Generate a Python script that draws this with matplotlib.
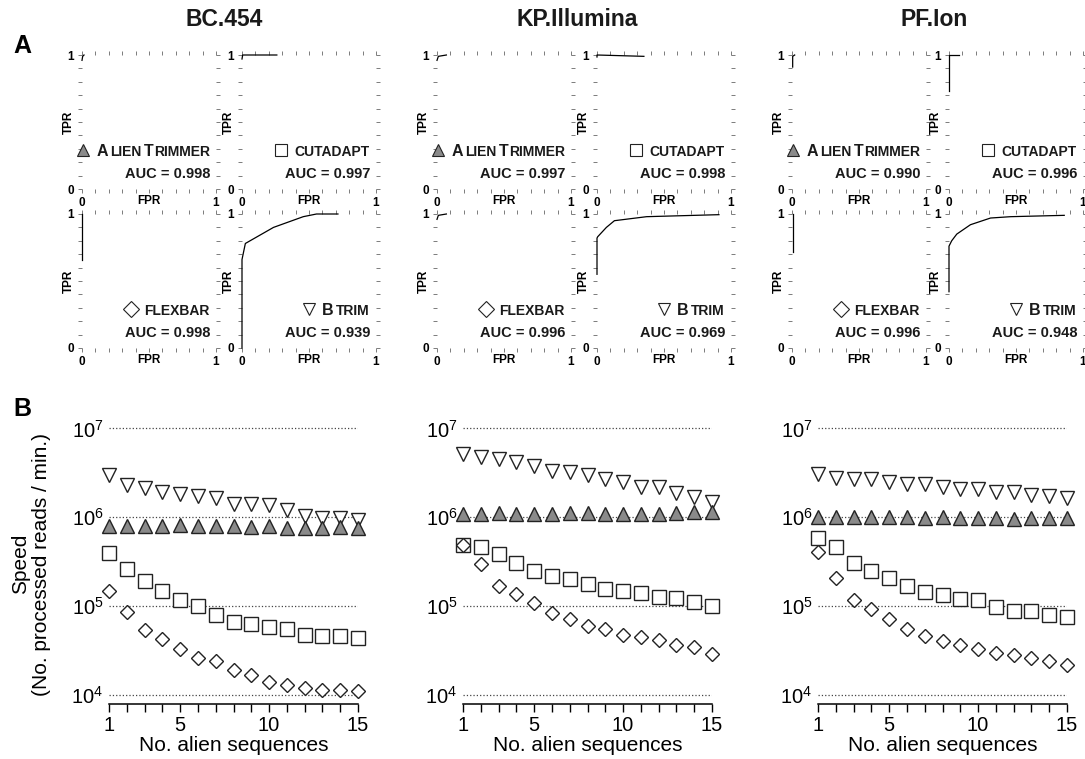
import matplotlib
matplotlib.use('Agg')
import matplotlib.pyplot as plt
from matplotlib.lines import Line2D
from matplotlib.offsetbox import AnchoredOffsetbox, HPacker, TextArea, DrawingArea
from matplotlib.ticker import FixedLocator, FuncFormatter, NullLocator

W, H = 1085, 759

plt.rcParams['font.family'] = ['Liberation Sans', 'DejaVu Sans']
NARROW = ['Liberation Sans Narrow', 'Liberation Sans', 'DejaVu Sans']

DATASETS = ['BC.454', 'KP.Illumina', 'PF.Ion']
N_ALIEN = list(range(1, 16))

# tool order in panel A: AlienTrimmer, Cutadapt, Flexbar, BTrim
AUC_BC = [0.998, 0.997, 0.998, 0.939]
AUC_KP = [0.997, 0.998, 0.996, 0.969]
AUC_PF = [0.990, 0.996, 0.996, 0.948]

# ROC curves (fpr, tpr)
BC_ALIEN_FPR = [0.0, 0.005, 0.015]
BC_ALIEN_TPR = [0.96, 0.99, 1.0]
BC_CUT_FPR = [0.0, 0.005, 0.26]
BC_CUT_TPR = [0.97, 1.0, 1.0]
BC_FLEX_FPR = [0.0, 0.0]
BC_FLEX_TPR = [0.66, 1.0]
BC_BTRIM_FPR = [0.0, 0.0, 0.025, 0.235, 0.457, 0.556, 0.716]
BC_BTRIM_TPR = [0.0, 0.66, 0.78, 0.90, 0.98, 1.0, 1.0]

KP_ALIEN_FPR = [0.0, 0.01, 0.07]
KP_ALIEN_TPR = [0.96, 0.99, 1.0]
KP_CUT_FPR = [0.0, 0.0, 0.35]
KP_CUT_TPR = [0.985, 1.0, 0.99]
KP_FLEX_FPR = [0.0, 0.01, 0.07]
KP_FLEX_TPR = [0.96, 0.99, 1.0]
KP_BTRIM_FPR = [0.0, 0.0, 0.005, 0.07, 0.13, 0.37, 0.91]
KP_BTRIM_TPR = [0.55, 0.82, 0.83, 0.90, 0.95, 0.98, 0.995]

PF_ALIEN_FPR = [0.005, 0.005, 0.02]
PF_ALIEN_TPR = [0.91, 0.99, 1.0]
PF_CUT_FPR = [0.0, 0.0, 0.075]
PF_CUT_TPR = [0.73, 1.0, 1.0]
PF_FLEX_FPR = [0.005, 0.005]
PF_FLEX_TPR = [0.72, 1.0]
PF_BTRIM_FPR = [0.0, 0.0, 0.02, 0.058, 0.16, 0.31, 0.46, 0.86]
PF_BTRIM_TPR = [0.42, 0.76, 0.80, 0.85, 0.92, 0.97, 0.98, 0.99]

# speed (processed reads / min.) vs number of alien sequences, panel B
BC_ALIEN = [7.9e5, 7.9e5, 7.9e5, 7.9e5, 8.2e5, 7.9e5, 7.9e5, 7.9e5, 7.8e5, 7.9e5,
            7.5e5, 7.6e5, 7.6e5, 7.7e5, 7.6e5]
BC_CUT = [4.0e5, 2.6e5, 1.9e5, 1.5e5, 1.18e5, 1.0e5, 7.9e4, 6.7e4, 6.3e4, 5.9e4,
          5.5e4, 4.8e4, 4.6e4, 4.6e4, 4.4e4]
BC_FLEX = [1.5e5, 8.7e4, 5.4e4, 4.3e4, 3.3e4, 2.6e4, 2.4e4, 1.9e4, 1.7e4, 1.4e4,
           1.3e4, 1.2e4, 1.15e4, 1.13e4, 1.1e4]
BC_BTRIM = [3.0e6, 2.3e6, 2.14e6, 1.95e6, 1.83e6, 1.73e6, 1.63e6, 1.41e6, 1.41e6, 1.39e6,
            1.22e6, 1.03e6, 0.98e6, 0.98e6, 0.94e6]

KP_ALIEN = [1.1e6, 1.1e6, 1.12e6, 1.08e6, 1.1e6, 1.1e6, 1.12e6, 1.12e6, 1.1e6, 1.1e6,
            1.1e6, 1.1e6, 1.12e6, 1.15e6, 1.15e6]
KP_CUT = [4.9e5, 4.6e5, 3.9e5, 3.1e5, 2.5e5, 2.2e5, 2.0e5, 1.8e5, 1.56e5, 1.47e5,
          1.4e5, 1.27e5, 1.23e5, 1.13e5, 1.0e5]
KP_FLEX = [4.9e5, 2.96e5, 1.7e5, 1.38e5, 1.08e5, 8.4e4, 7.1e4, 6.0e4, 5.5e4, 4.8e4,
           4.5e4, 4.2e4, 3.7e4, 3.5e4, 2.9e4]
KP_BTRIM = [5.1e6, 4.8e6, 4.5e6, 4.2e6, 3.8e6, 3.3e6, 3.2e6, 3.0e6, 2.7e6, 2.5e6,
            2.2e6, 2.2e6, 1.9e6, 1.7e6, 1.5e6]

PF_ALIEN = [1.0e6, 1.0e6, 1.0e6, 1.0e6, 1.0e6, 1.0e6, 0.98e6, 1.0e6, 0.99e6, 0.99e6,
            0.99e6, 0.96e6, 0.98e6, 0.98e6, 0.98e6]
PF_CUT = [5.8e5, 4.6e5, 3.1e5, 2.5e5, 2.1e5, 1.67e5, 1.45e5, 1.34e5, 1.2e5, 1.19e5,
          9.9e4, 8.9e4, 8.9e4, 7.9e4, 7.5e4]
PF_FLEX = [4.1e5, 2.1e5, 1.19e5, 9.2e4, 7.1e4, 5.6e4, 4.6e4, 4.1e4, 3.7e4, 3.3e4,
           3.0e4, 2.8e4, 2.6e4, 2.4e4, 2.2e4]
PF_BTRIM = [3.1e6, 2.8e6, 2.7e6, 2.7e6, 2.5e6, 2.4e6, 2.35e6, 2.2e6, 2.1e6, 2.06e6,
            1.94e6, 1.94e6, 1.8e6, 1.74e6, 1.66e6]

# tool names in small caps: words made of (text, big letter?) pieces
NAMES = [[[('A', True)], [('LIEN', False)], [('T', True), ('RIMMER', False)]],
         [[('CUTADAPT', False)]],
         [[('FLEXBAR', False)]],
         [[('B', True)], [('TRIM', False)]]]
MARKERS = ['^', 's', 'D', 'v']
FACES = ['#8a8a8a', 'white', 'white', 'white']
EDGE = '#222222'

# layout in pixels
ROC_LEFT = [[82, 242], [437, 597], [792, 949]]
ROC_TOP = [55, 214]
ROC_SIZE = 134
SPEED_LEFT = [109, 463, 818]

fig = plt.figure(figsize=(W / 100, H / 100), dpi=100)


def label_fmt(v, pos):
  if abs(v) < 1e-9:
    return '0'
  if abs(v - 1) < 1e-9:
    return '1'
  return ''


def roc_axes(left, top, fpr, tpr, idx, auc):
  ax = fig.add_axes([left / W, 1 - (top + ROC_SIZE) / H, ROC_SIZE / W, ROC_SIZE / H])
  ax.plot(fpr, tpr, color='black', lw=0.9, clip_on=False)
  ax.set_xlim(0, 1)
  ax.set_ylim(0, 1)
  for s in ax.spines.values():
    s.set_visible(False)
  ticks = [i / 10 for i in range(11)]
  for axis in (ax.xaxis, ax.yaxis):
    axis.set_major_locator(FixedLocator(ticks))
    axis.set_major_formatter(FuncFormatter(label_fmt))
  ax.tick_params(direction='out', length=3, width=0.6, color='#666666',
                 top=True, right=True, labelsize=8.5, pad=2.5)
  for lab in ax.get_xticklabels() + ax.get_yticklabels():
    lab.set_family(NARROW)
    lab.set_fontweight('bold')
  ax.text(0.5, -0.045, 'FPR', transform=ax.transAxes, ha='center', va='top',
          family=NARROW, weight='bold', fontsize=8.5)
  ax.text(-0.1, 0.5, 'TPR', transform=ax.transAxes, ha='center', va='center',
          rotation=90, family=NARROW, weight='bold', fontsize=8.5)

  # tool name with its marker
  da = DrawingArea(14, 8, 0, 0)
  da.add_artist(Line2D([6], [4], marker=MARKERS[idx], ms=8.5, mfc=FACES[idx],
                       mec=EDGE, mew=0.8, ls='none'))
  boxes = [da]
  for word in NAMES[idx]:
    pieces = [TextArea(txt, textprops=dict(family=NARROW, weight='bold',
                                           size=11.5 if big else 10, color='#1a1a1a'))
              for txt, big in word]
    boxes.append(HPacker(children=pieces, align='baseline', pad=0, sep=0.3))
  pack = HPacker(children=boxes, align='baseline', pad=0, sep=1.8)
  ab = AnchoredOffsetbox(loc='center right', child=pack, pad=0, borderpad=0,
                         frameon=False, bbox_to_anchor=(0.955, 0.28),
                         bbox_transform=ax.transAxes)
  ax.add_artist(ab)
  ax.text(0.96, 0.11, 'AUC = %.3f' % auc, transform=ax.transAxes, ha='right',
          va='center', family=NARROW, weight='bold', fontsize=10.5, color='#1a1a1a')
  return ax


# panel B marker order: BTrim, AlienTrimmer, Cutadapt, Flexbar
MARKERS_B = ['v', '^', 's', 'D']
FACES_B = ['white', '#8a8a8a', 'white', 'white']
MSIZES_B = [9.5, 9.5, 9.5, 7.5]


def speed_axes(left, series):
  ax = fig.add_axes([left / W, 1 - 704 / H, 249 / W, 280 / H])
  ax.set_yscale('log')
  ax.set_ylim(10 ** 3.9, 10 ** 7.05)
  ax.set_xlim(1, 15)
  for vals, m, fc, ms in zip(series, MARKERS_B, FACES_B, MSIZES_B):
    ax.plot(N_ALIEN, vals, ls='none', marker=m, ms=ms, mfc=fc, mec=EDGE,
            mew=1.0, clip_on=False, zorder=3)
  ax.yaxis.set_major_locator(FixedLocator([1e4, 1e5, 1e6, 1e7]))
  ax.yaxis.set_minor_locator(NullLocator())
  ax.grid(axis='y', which='major', ls=':', color='#444444', lw=0.9)
  for side in ('left', 'top', 'right'):
    ax.spines[side].set_visible(False)
  ax.spines['bottom'].set_linewidth(1.1)
  ax.tick_params(axis='y', length=0, pad=4, labelsize=14.5)
  ax.set_xticks(N_ALIEN)
  ax.set_xticklabels([str(n) if n in (1, 5, 10, 15) else '' for n in N_ALIEN])
  ax.tick_params(axis='x', length=5.5, width=1.0, pad=3, labelsize=14.5)
  ax.set_xlabel('No. alien sequences', fontsize=15, labelpad=1)
  return ax


roc_data = [
  [(BC_ALIEN_FPR, BC_ALIEN_TPR), (BC_CUT_FPR, BC_CUT_TPR),
   (BC_FLEX_FPR, BC_FLEX_TPR), (BC_BTRIM_FPR, BC_BTRIM_TPR)],
  [(KP_ALIEN_FPR, KP_ALIEN_TPR), (KP_CUT_FPR, KP_CUT_TPR),
   (KP_FLEX_FPR, KP_FLEX_TPR), (KP_BTRIM_FPR, KP_BTRIM_TPR)],
  [(PF_ALIEN_FPR, PF_ALIEN_TPR), (PF_CUT_FPR, PF_CUT_TPR),
   (PF_FLEX_FPR, PF_FLEX_TPR), (PF_BTRIM_FPR, PF_BTRIM_TPR)],
]
aucs = [AUC_BC, AUC_KP, AUC_PF]
speeds = [[BC_BTRIM, BC_ALIEN, BC_CUT, BC_FLEX],
          [KP_BTRIM, KP_ALIEN, KP_CUT, KP_FLEX],
          [PF_BTRIM, PF_ALIEN, PF_CUT, PF_FLEX]]

for d in range(3):
  for i in range(4):
    row, col = divmod(i, 2)
    fpr, tpr = roc_data[d][i]
    roc_axes(ROC_LEFT[d][col], ROC_TOP[row], fpr, tpr, i, aucs[d][i])

for d in range(3):
  speed_axes(SPEED_LEFT[d], speeds[d])

# titles, panel letters, shared y label
for x, name in zip([224, 577, 934], DATASETS):
  fig.text(x / W, 1 - 20 / H, name, ha='center', va='center', fontsize=16.5,
           fontweight='bold', color='#1a1a1a')
fig.text(22 / W, 1 - 46 / H, 'A', ha='center', va='center', fontsize=18, fontweight='bold')
fig.text(22 / W, 1 - 409 / H, 'B', ha='center', va='center', fontsize=18, fontweight='bold')
fig.text(31 / W, 1 - 564 / H, 'Speed\n(No. processed reads / min.)', rotation=90,
         ha='center', va='center', fontsize=15, linespacing=1.1, multialignment='center')

fig.savefig('out.png', dpi=100)
